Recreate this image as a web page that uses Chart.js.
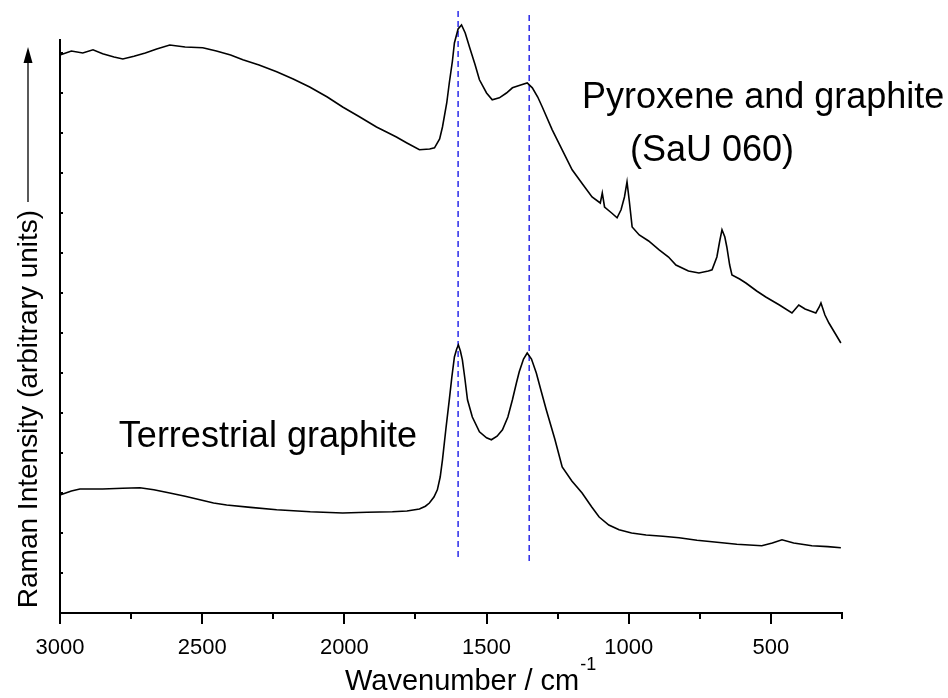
<!DOCTYPE html>
<html>
<head>
<meta charset="utf-8">
<script src="https://cdn.jsdelivr.net/npm/chart.js@4.4.1/dist/chart.umd.min.js"></script>
<style>
  html, body { margin: 0; padding: 0; background: #fff; }
</style>
</head>
<body>
<canvas id="raman" width="948" height="698"></canvas>
<script>
// spectrum: pyroxene and graphite (SaU 060)
const pyrWave = [3000, 2960, 2920, 2884, 2850, 2810, 2779, 2740, 2700, 2660, 2614, 2560, 2498, 2450, 2400, 2357,
  2300, 2238, 2180, 2122, 2060, 2006, 1950, 1887, 1850, 1817, 1780, 1736, 1700, 1683, 1665, 1655, 1640, 1631,
  1620, 1613, 1600, 1588, 1575, 1560, 1540, 1525, 1500, 1480, 1455, 1430, 1409, 1380, 1357, 1339, 1320, 1304,
  1269, 1234, 1199, 1160, 1129, 1100, 1093, 1085, 1060, 1041, 1027, 1015, 1006, 998, 988, 963, 930, 893, 860,
  834, 790, 753, 720, 707, 690, 680, 672, 662, 655, 645, 637, 610, 588, 550, 518, 470, 426, 402, 380, 342, 330,
  324, 310, 296, 275, 254];
const pyrInt = [13.95, 14.05, 14.0, 14.08, 13.98, 13.9, 13.85, 13.92, 14.0, 14.1, 14.2, 14.15, 14.13, 14.05, 13.95, 13.83,
  13.7, 13.53, 13.35, 13.15, 12.9, 12.65, 12.42, 12.15, 12.02, 11.9, 11.75, 11.58, 11.6, 11.63, 11.85, 12.15, 12.75, 13.25,
  13.8, 14.25, 14.6, 14.7, 14.5, 14.15, 13.7, 13.33, 13.0, 12.83, 12.88, 13.0, 13.13, 13.2, 13.25, 13.13, 12.9, 12.65,
  12.08, 11.58, 11.08, 10.7, 10.4, 10.25, 10.5, 10.15, 10.0, 9.88, 10.08, 10.4, 10.78, 10.3, 9.65, 9.45, 9.3, 9.08, 8.9,
  8.7, 8.55, 8.5, 8.55, 8.58, 8.9, 9.3, 9.58, 9.4, 9.15, 8.7, 8.45, 8.35, 8.25, 8.05, 7.9, 7.7, 7.5, 7.7, 7.6, 7.5, 7.65,
  7.75, 7.45, 7.25, 7.0, 6.75];

// spectrum: terrestrial graphite
const terWave = [3000, 2960, 2930, 2850, 2780, 2719, 2670, 2614, 2560, 2508, 2460, 2414, 2330, 2238, 2120, 2006, 1920,
  1831, 1780, 1736, 1715, 1701, 1685, 1673, 1663, 1655, 1643, 1631, 1622, 1613, 1605, 1599, 1592, 1585, 1576, 1567,
  1550, 1525, 1500, 1483, 1463, 1444, 1425, 1409, 1395, 1385, 1370, 1357, 1342, 1325, 1308, 1290, 1260, 1234, 1200,
  1164, 1130, 1104, 1070, 1034, 990, 939, 880, 823, 760, 707, 620, 532, 495, 461, 420, 356, 300, 254];
const terInt = [2.95, 3.05, 3.1, 3.1, 3.12, 3.13, 3.08, 3.0, 2.92, 2.83, 2.75, 2.7, 2.64, 2.58, 2.53, 2.5, 2.52,
  2.53, 2.55, 2.6, 2.67, 2.75, 2.9, 3.08, 3.4, 3.83, 4.6, 5.33, 5.9, 6.4, 6.6, 6.7, 6.55, 6.33, 5.85, 5.33,
  4.9, 4.53, 4.38, 4.33, 4.42, 4.58, 4.9, 5.33, 5.75, 6.03, 6.35, 6.5, 6.35, 6.0, 5.55, 5.08, 4.35, 3.65, 3.3,
  3.0, 2.65, 2.4, 2.2, 2.08, 2.0, 1.95, 1.92, 1.88, 1.82, 1.78, 1.72, 1.68, 1.75, 1.83, 1.75, 1.68, 1.66, 1.63];

// G and D band markers (dashed)
const bandPos = [1600, 1350];
const bandTop = [15.05, 14.95];
const bandBottom = [1.33, 1.2];

// axis ticks
const xTicks = [3000, 2500, 2000, 1500, 1000, 500];
const xMinorTicks = [2750, 2250, 1750, 1250, 750, 250];
const yTicks = [1, 2, 3, 4, 5, 6, 7, 8, 9, 10, 11, 12, 13, 14];

// text placed in data units
const notes = [
  { text: "Pyroxene and graphite", x: 1164, y: 12.63, align: "left" },
  { text: "(SaU 060)", x: 707, y: 11.3, align: "center" },
  { text: "Terrestrial graphite", x: 2793, y: 4.15, align: "left" },
];

const FONT = '"Liberation Sans", Arial, sans-serif';
const toPoints = (xs, ys) => xs.map((v, i) => ({ x: v, y: ys[i] }));

const spectrumStyle = {
  borderColor: "#000",
  borderWidth: 1.6,
  pointRadius: 0,
  tension: 0,
  clip: false,
};

const bandSets = bandPos.map((p, i) => ({
  data: [{ x: p, y: bandTop[i] }, { x: p, y: bandBottom[i] }],
  borderColor: "#2a2ae8",
  borderWidth: 1.5,
  borderDash: [6, 4],
  pointRadius: 0,
  clip: false,
}));

// extra drawing: ticks, axis titles, labels
const decor = {
  id: "decor",
  afterDraw(chart) {
    const { ctx, scales, chartArea } = chart;
    const x = scales.x, y = scales.y;
    const base = chartArea.bottom;
    const left = chartArea.left;
    ctx.save();
    ctx.fillStyle = "#000";
    // ticks as small filled bars
    xTicks.forEach((v) => {
      ctx.fillRect(Math.round(x.getPixelForValue(v)) - 1, base, 2, 11);
    });
    xMinorTicks.forEach((v) => {
      ctx.fillRect(Math.round(x.getPixelForValue(v)) - 1, base, 2, 6);
    });
    yTicks.forEach((v) => {
      ctx.fillRect(left, Math.round(y.getPixelForValue(v)) - 1, 3, 2);
    });

    ctx.textBaseline = "alphabetic";

    // x title with superscript
    ctx.font = "29px " + FONT;
    ctx.textAlign = "left";
    const main = "Wavenumber / cm";
    const w = ctx.measureText(main).width;
    const x0 = 345;
    ctx.fillText(main, x0, 690);
    ctx.font = "18px " + FONT;
    ctx.fillText("-1", x0 + w + 1, 670);

    // y title with arrow
    ctx.save();
    ctx.translate(37, 409);
    ctx.rotate(-Math.PI / 2);
    ctx.font = "28px " + FONT;
    ctx.textAlign = "center";
    ctx.fillText("Raman Intensity (arbitrary units)", 0, 0);
    ctx.restore();
    ctx.strokeStyle = "#000";
    ctx.beginPath();
    ctx.lineWidth = 1.3;
    ctx.moveTo(28, 202);
    ctx.lineTo(28, 60);
    ctx.stroke();
    ctx.beginPath();
    ctx.moveTo(28, 47);
    ctx.lineTo(23.5, 63);
    ctx.lineTo(32.5, 63);
    ctx.closePath();
    ctx.fill();

    // curve labels
    ctx.font = "36px " + FONT;
    notes.forEach((n) => {
      ctx.textAlign = n.align;
      ctx.fillText(n.text, x.getPixelForValue(n.x), y.getPixelForValue(n.y));
    });
    ctx.restore();
  },
};

new Chart(document.getElementById("raman"), {
  type: "line",
  data: {
    datasets: [
      { ...spectrumStyle, data: toPoints(pyrWave, pyrInt) },
      { ...spectrumStyle, data: toPoints(terWave, terInt) },
      ...bandSets,
    ],
  },
  options: {
    responsive: false,
    animation: false,
    layout: { padding: { left: 0, right: 106, top: 40, bottom: 0 } },
    plugins: { legend: { display: false }, tooltip: { enabled: false } },
    scales: {
      x: {
        type: "linear",
        reverse: true,
        min: 250,
        max: 3000,
        afterBuildTicks: (scale) => {
          scale.ticks = xTicks.map((v) => ({ value: v }));
        },
        afterFit: (scale) => {
          scale.height = 85;
        },
        grid: { display: false, drawTicks: false },
        border: { display: true, color: "#000", width: 2 },
        ticks: {
          color: "#000",
          padding: 22,
          maxRotation: 0,
          autoSkip: false,
          callback: (v) => String(v),
          font: { family: FONT, size: 22 },
        },
      },
      y: {
        min: 0,
        max: 14.325,
        afterFit: (scale) => {
          scale.width = 60;
        },
        grid: { display: false },
        border: { display: true, color: "#000", width: 2 },
        ticks: { display: false },
      },
    },
  },
  plugins: [decor],
});
</script>
</body>
</html>
